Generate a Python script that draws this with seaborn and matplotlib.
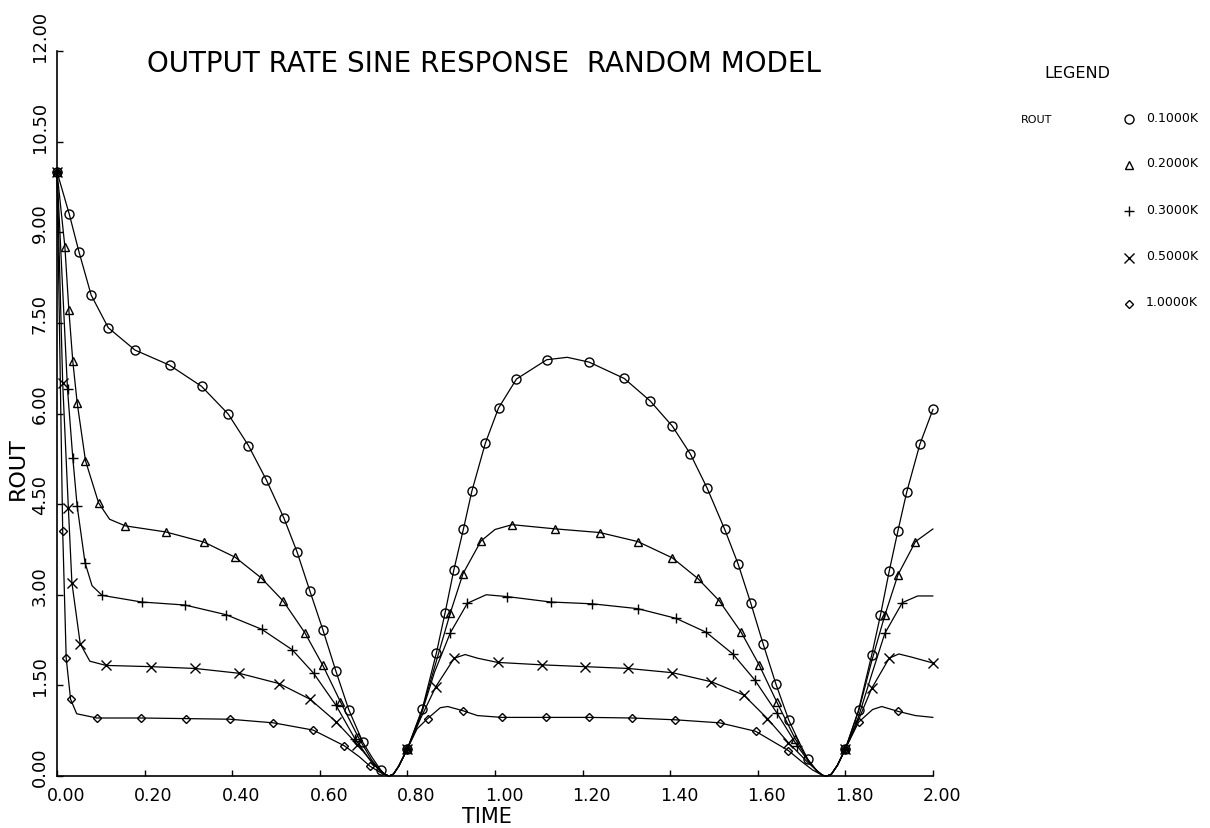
import matplotlib
matplotlib.use("Agg")
import matplotlib.pyplot as plt
import matplotlib.transforms as mtransforms
from matplotlib.lines import Line2D
import seaborn as sns

# ---------------------------------------------------------------------------
# Output rate (ROUT) versus time for five values of K.
# T* = time, V* = ROUT, M* = 1 where a symbol is plotted on the curve.
# ---------------------------------------------------------------------------
T01 = [0.000, 0.028, 0.050, 0.078, 0.117, 0.178, 0.257, 0.330, 0.391, 0.437,
       0.478, 0.518, 0.548, 0.577, 0.607, 0.637, 0.666, 0.698, 0.720, 0.739,
       0.748, 0.758, 0.768, 0.780, 0.800, 0.834, 0.866, 0.886, 0.906, 0.928,
       0.947, 0.978, 1.008, 1.049, 1.118, 1.165, 1.215, 1.295, 1.354, 1.405,
       1.446, 1.484, 1.524, 1.555, 1.584, 1.612, 1.641, 1.671, 1.695, 1.714,
       1.735, 1.748, 1.758, 1.768, 1.782, 1.800, 1.830, 1.860, 1.880, 1.900,
       1.920, 1.940, 1.970, 2.000]
V01 = [10.00, 9.30, 8.68, 7.96, 7.42, 7.05, 6.80, 6.45, 5.99, 5.47,
       4.90, 4.27, 3.71, 3.07, 2.42, 1.73, 1.10, 0.56, 0.30, 0.10,
       0.03, 0.00, 0.03, 0.16, 0.45, 1.11, 2.03, 2.70, 3.41, 4.09,
       4.71, 5.51, 6.09, 6.57, 6.89, 6.93, 6.85, 6.58, 6.21, 5.79,
       5.33, 4.77, 4.09, 3.51, 2.86, 2.19, 1.53, 0.92, 0.55, 0.28,
       0.08, 0.01, 0.00, 0.03, 0.18, 0.45, 1.09, 2.00, 2.66, 3.39,
       4.06, 4.70, 5.49, 6.07]
M01 = [1, 1, 1, 1, 1, 1, 1, 1, 1, 1,
       1, 1, 1, 1, 1, 1, 1, 1, 0, 1,
       0, 0, 0, 0, 1, 1, 1, 1, 1, 1,
       1, 1, 1, 1, 1, 0, 1, 1, 1, 1,
       1, 1, 1, 1, 1, 1, 1, 1, 0, 1,
       0, 0, 0, 0, 0, 1, 1, 1, 1, 1,
       1, 1, 1, 1]

T02 = [0.000, 0.018, 0.027, 0.036, 0.046, 0.065, 0.095, 0.120, 0.156, 0.248,
       0.336, 0.407, 0.466, 0.516, 0.566, 0.607, 0.647, 0.688, 0.718, 0.738,
       0.748, 0.758, 0.768, 0.780, 0.800, 0.834, 0.870, 0.898, 0.927, 0.968,
       1.000, 1.039, 1.138, 1.239, 1.326, 1.405, 1.463, 1.512, 1.562, 1.603,
       1.643, 1.685, 1.715, 1.735, 1.748, 1.758, 1.768, 1.782, 1.800, 1.830,
       1.860, 1.890, 1.920, 1.960, 2.000]
V02 = [10.00, 8.76, 7.72, 6.87, 6.18, 5.22, 4.52, 4.25, 4.14, 4.04,
       3.87, 3.62, 3.28, 2.90, 2.37, 1.83, 1.23, 0.64, 0.27, 0.09,
       0.03, 0.00, 0.03, 0.16, 0.45, 1.10, 2.00, 2.70, 3.35, 3.89,
       4.08, 4.16, 4.09, 4.03, 3.88, 3.61, 3.27, 2.90, 2.38, 1.84,
       1.23, 0.62, 0.26, 0.08, 0.01, 0.00, 0.03, 0.18, 0.45, 1.07,
       1.90, 2.66, 3.33, 3.88, 4.09]
M02 = [1, 1, 1, 1, 1, 1, 1, 0, 1, 1,
       1, 1, 1, 1, 1, 1, 1, 1, 0, 0,
       0, 0, 0, 0, 1, 0, 0, 1, 1, 1,
       0, 1, 1, 1, 1, 1, 1, 1, 1, 1,
       1, 1, 0, 0, 0, 0, 0, 0, 1, 0,
       0, 1, 1, 1, 0]

T03 = [0.000, 0.024, 0.036, 0.046, 0.064, 0.080, 0.103, 0.193, 0.292, 0.386,
       0.467, 0.537, 0.586, 0.637, 0.680, 0.715, 0.738, 0.748, 0.758, 0.768,
       0.780, 0.800, 0.830, 0.862, 0.898, 0.937, 0.980, 1.027, 1.127, 1.222,
       1.326, 1.413, 1.482, 1.543, 1.593, 1.643, 1.690, 1.720, 1.738, 1.748,
       1.758, 1.768, 1.782, 1.800, 1.830, 1.860, 1.890, 1.930, 1.965, 2.000]
V03 = [10.00, 6.40, 5.27, 4.47, 3.53, 3.15, 2.99, 2.88, 2.83, 2.67,
       2.43, 2.09, 1.70, 1.17, 0.62, 0.26, 0.08, 0.03, 0.00, 0.03,
       0.16, 0.45, 0.98, 1.72, 2.37, 2.86, 3.00, 2.97, 2.88, 2.85,
       2.77, 2.61, 2.38, 2.02, 1.59, 1.05, 0.50, 0.20, 0.07, 0.01,
       0.00, 0.03, 0.18, 0.45, 0.98, 1.68, 2.36, 2.87, 2.98, 2.98]
M03 = [1, 1, 1, 1, 1, 0, 1, 1, 1, 1,
       1, 1, 1, 1, 1, 0, 0, 0, 0, 0,
       0, 1, 0, 0, 1, 1, 0, 1, 1, 1,
       1, 1, 1, 1, 1, 1, 1, 0, 0, 0,
       0, 0, 0, 1, 0, 0, 1, 1, 0, 0]

T05 = [0.000, 0.013, 0.026, 0.034, 0.053, 0.075, 0.112, 0.214, 0.315, 0.416,
       0.507, 0.578, 0.637, 0.686, 0.718, 0.738, 0.748, 0.758, 0.768, 0.780,
       0.800, 0.830, 0.865, 0.907, 0.932, 0.960, 1.006, 1.107, 1.205, 1.304,
       1.405, 1.494, 1.568, 1.622, 1.670, 1.715, 1.738, 1.748, 1.758, 1.768,
       1.782, 1.800, 1.830, 1.860, 1.900, 1.922, 1.950, 2.000]
V05 = [10.00, 6.50, 4.43, 3.20, 2.19, 1.90, 1.83, 1.81, 1.78, 1.70,
       1.53, 1.27, 0.90, 0.52, 0.24, 0.08, 0.03, 0.00, 0.03, 0.16,
       0.45, 0.95, 1.48, 1.95, 2.01, 1.95, 1.88, 1.84, 1.81, 1.78,
       1.71, 1.56, 1.34, 0.95, 0.55, 0.22, 0.07, 0.01, 0.00, 0.03,
       0.18, 0.45, 0.93, 1.45, 1.95, 2.02, 1.97, 1.87]
M05 = [1, 1, 1, 1, 1, 0, 1, 1, 1, 1,
       1, 1, 1, 1, 0, 0, 0, 0, 0, 0,
       1, 0, 1, 1, 0, 0, 1, 1, 1, 1,
       1, 1, 1, 1, 1, 0, 0, 0, 0, 0,
       0, 1, 0, 1, 1, 0, 0, 1]

T10 = [0.000, 0.013, 0.021, 0.031, 0.045, 0.091, 0.192, 0.294, 0.394, 0.494,
       0.585, 0.656, 0.690, 0.715, 0.738, 0.748, 0.758, 0.768, 0.780, 0.800,
       0.822, 0.846, 0.875, 0.892, 0.927, 0.960, 1.016, 1.117, 1.214, 1.313,
       1.412, 1.513, 1.595, 1.670, 1.700, 1.725, 1.748, 1.758, 1.768, 1.782,
       1.800, 1.830, 1.862, 1.883, 1.920, 1.960, 2.000]
V10 = [10.00, 4.05, 1.95, 1.27, 1.03, 0.96, 0.96, 0.95, 0.94, 0.88,
       0.76, 0.50, 0.32, 0.16, 0.06, 0.02, 0.00, 0.03, 0.16, 0.45,
       0.78, 0.95, 1.13, 1.15, 1.08, 1.00, 0.97, 0.97, 0.97, 0.96,
       0.93, 0.88, 0.74, 0.42, 0.24, 0.10, 0.01, 0.00, 0.03, 0.18,
       0.45, 0.89, 1.10, 1.15, 1.07, 1.00, 0.97]
M10 = [1, 1, 1, 1, 0, 1, 1, 1, 1, 1,
       1, 1, 0, 1, 0, 0, 0, 0, 0, 1,
       0, 1, 0, 0, 1, 0, 1, 1, 1, 1,
       1, 1, 1, 1, 0, 0, 0, 0, 0, 0,
       1, 1, 0, 0, 1, 0, 0]

K_LABELS = ["0.1000K", "0.2000K", "0.3000K", "0.5000K", "1.0000K"]
XTICKS = [0.0, 0.2, 0.4, 0.6, 0.8, 1.0, 1.2, 1.4, 1.6, 1.8, 2.0]
XTICK_LABELS = ["0.00", "0.20", "0.40", "0.60", "0.80", "1.00",
                "1.20", "1.40", "1.60", "1.80", "2.00"]
YTICKS = [0.0, 1.5, 3.0, 4.5, 6.0, 7.5, 9.0, 10.5, 12.0]
YTICK_LABELS = ["0.00", "1.50", "3.00", "4.50", "6.00",
                "7.50", "9.00", "10.50", "12.00"]
TITLE = "OUTPUT RATE SINE RESPONSE  RANDOM MODEL"

# ---------------------------------------------------------------------------
sns.set_style("ticks")
plt.rcParams["font.family"] = ["DejaVu Sans"]
plt.rcParams["text.color"] = "black"

W, H = 1210, 829
fig = plt.figure(figsize=(W / 100, H / 100), dpi=100)
fig.patch.set_facecolor("white")
ax = fig.add_axes([57 / W, 1 - 777 / H, (933 - 57) / W, (777 - 52) / H])
ax.set_facecolor("white")

series = [
    (T01, V01, M01, "o", 6.5, "none"),
    (T02, V02, M02, "^", 6.0, "none"),
    (T03, V03, M03, "+", 7.5, None),
    (T05, V05, M05, "x", 6.5, None),
    (T10, V10, M10, "D", 4.5, "none"),
]

for t, v, m, mk, ms, mfc in series:
    assert len(t) == len(v) == len(m)
    kws = dict(marker=mk, markersize=ms, markeredgecolor="black",
               markeredgewidth=1.0, markevery=[bool(f) for f in m])
    if mfc is not None:
        kws["markerfacecolor"] = mfc
    sns.lineplot(x=t, y=v, ax=ax, color="black", linewidth=0.9,
                 estimator=None, sort=False, legend=False, clip_on=False,
                 **kws)

ax.set_xlim(0, 2.0)
ax.set_ylim(0, 12.0)
ax.set_xticks(XTICKS)
ax.set_yticks(YTICKS)
ax.set_xticklabels([])
ax.set_yticklabels([])
ax.set_xlabel("")
ax.set_ylabel("")
ax.tick_params(direction="in", length=4, width=1.0, colors="black")
sns.despine(ax=ax)
for side in ("left", "bottom"):
    ax.spines[side].set_linewidth(1.2)
    ax.spines[side].set_color("black")


def shift(dx, dy):
    return mtransforms.ScaledTranslation(dx / 100, dy / 100, fig.dpi_scale_trans)


xtrans = ax.get_xaxis_transform()
for xt, lab in zip(XTICKS, XTICK_LABELS):
    ax.text(xt, 0, lab, transform=xtrans + shift(9, -10), ha="center",
            va="top", fontsize=12.5, color="black")

ytrans = ax.get_yaxis_transform()
for yt, lab in zip(YTICKS, YTICK_LABELS):
    ax.text(0, yt, lab, transform=ytrans + shift(-17, -10), rotation=90,
            ha="center", va="bottom", fontsize=13, color="black")

# axis titles
ax.text(0.5, 0, "TIME", transform=ax.transAxes + shift(-8, -30),
        ha="center", va="top", fontsize=15, color="black")
ax.text(0, 5.1, "ROUT", transform=ytrans + shift(-39, 0), rotation=90,
        ha="center", va="center", fontsize=16, color="black")

# title
fig.text(147 / W, 1 - 64 / H, TITLE, ha="left", va="center", fontsize=20,
         color="black")

# legend block
fig.text(1077 / W, 1 - 74 / H, "LEGEND", ha="center", va="center",
         fontsize=11.5, color="black")
fig.text(1021 / W, 1 - 120 / H, "ROUT", ha="left", va="center", fontsize=8,
         color="black")
rows_y = [120, 166, 212, 259, 305]
for (t, v, m, mk, ms, mfc), lab, ry in zip(series, K_LABELS, rows_y):
    kw = dict(marker=mk, markersize=ms, color="black",
              markeredgecolor="black", markeredgewidth=1.0, linestyle="none")
    if mfc is not None:
        kw["markerfacecolor"] = mfc
    fig.add_artist(Line2D([1129 / W], [1 - ry / H], transform=fig.transFigure, **kw))
    fig.text(1146 / W, 1 - (ry - 2) / H, lab, ha="left", va="center",
             fontsize=9, color="black")

fig.savefig("out.png", dpi=100, facecolor="white")
